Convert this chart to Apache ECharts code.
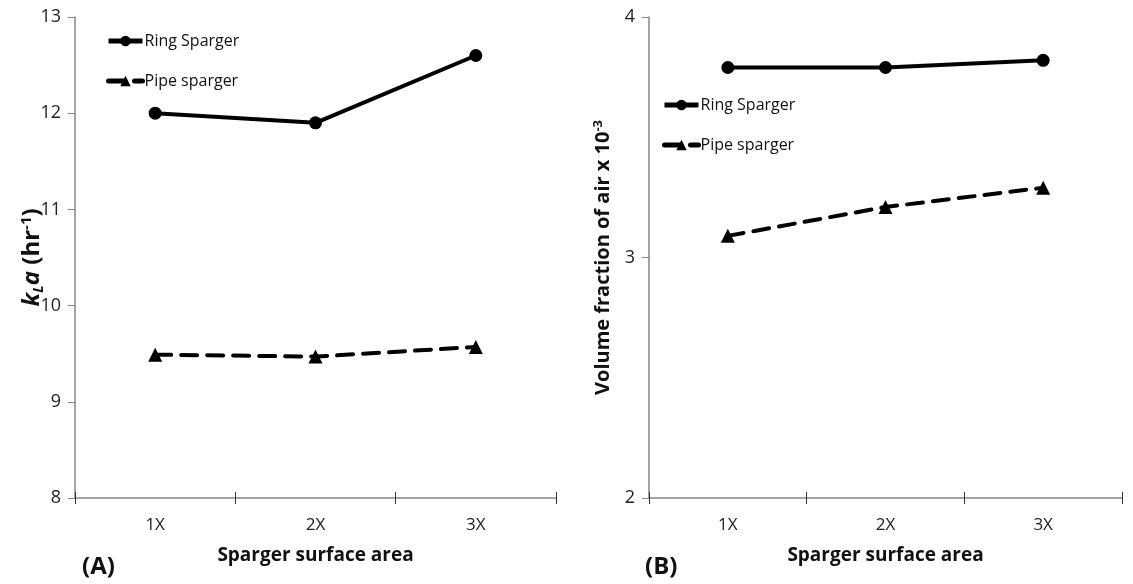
<!DOCTYPE html>
<html><head><meta charset="utf-8">
<script src="https://cdn.jsdelivr.net/npm/echarts@6/dist/echarts.min.js"></script>
<style>html,body{margin:0;padding:0;background:#fff}#c{width:1133px;height:584px}</style>
</head><body><div id="c"></div>
<script>
const categories = ['1X', '2X', '3X'];
const ringKla = [12.0, 11.9, 12.6];
const pipeKla = [9.49, 9.47, 9.57];
const ringVol = [3.79, 3.79, 3.82];
const pipeVol = [3.09, 3.21, 3.29];
const klaTicks = [8, 13, 1];
const volTicks = [2, 4, 1];

const FF = '"Open Sans", sans-serif';
const axisCol = '#868686';
const chart = echarts.init(document.getElementById('c'));

function xAxes(gi) {
  return [
    {gridIndex: gi, type: 'category', data: categories, boundaryGap: true,
     axisLine: {lineStyle: {color: axisCol, width: 1.5}},
     axisTick: {show: true, inside: false, length: 6, lineStyle: {color: '#333'}},
     axisLabel: {color: '#222', fontFamily: FF, fontSize: 17, margin: 19},
     name: 'Sparger surface area', nameLocation: 'middle', nameGap: 48,
     nameTextStyle: {fontFamily: FF, fontSize: 19, fontWeight: 'bold', color: '#111'}},
    {gridIndex: gi, type: 'category', data: categories, position: 'bottom', boundaryGap: true,
     axisLine: {show: false},
     axisTick: {show: true, inside: true, length: 6, lineStyle: {color: '#333'}},
     axisLabel: {show: false}}
  ];
}
function yAxis(gi, t, name, nameGap) {
  return {gridIndex: gi, type: 'value', min: t[0], max: t[1], interval: t[2],
    axisLine: {show: true, lineStyle: {color: axisCol, width: 1.5}},
    axisTick: {show: true, length: 7, lineStyle: {color: axisCol}},
    splitLine: {show: false},
    axisLabel: {color: '#222', fontFamily: FF, fontSize: 18, margin: 14},
    name: name, nameLocation: 'middle', nameGap: nameGap, nameMoveOverlap: false};
}

const ringStyle = {type: 'line', symbol: 'circle', symbolSize: 13,
  lineStyle: {color: '#000', width: 4}, itemStyle: {color: '#000'}};
const pipeStyle = {type: 'line', symbol: 'triangle', symbolSize: 14,
  lineStyle: {color: '#000', width: 4, type: [16, 10], cap: 'round'}, itemStyle: {color: '#000'}};

const y0 = yAxis(0, klaTicks, '{i|k}{sub|L}{i|a}{n| (hr}{sup|-1}{n|)}', 29);
y0.nameTextStyle = {color: '#111', rich: {
  i: {fontFamily: FF, fontSize: 24, fontWeight: 'bold', fontStyle: 'italic', color: '#111'},
  n: {fontFamily: FF, fontSize: 24, fontWeight: 'bold', color: '#111'},
  sub: {fontFamily: FF, fontSize: 15, fontWeight: 'bold', fontStyle: 'italic', color: '#111', verticalAlign: 'bottom', padding: [12, 0, 0, 0]},
  sup: {fontFamily: FF, fontSize: 15, fontWeight: 'bold', color: '#111', verticalAlign: 'top', padding: [0, 0, 12, 0]}
}};
const y1 = yAxis(1, volTicks, '{n|Volume fraction of air x 10}{sup|-3}', 34);
y1.nameTextStyle = {color: '#111', rich: {
  n: {fontFamily: FF, fontSize: 20, fontWeight: 'bold', color: '#111'},
  sup: {fontFamily: FF, fontSize: 13, fontWeight: 'bold', color: '#111', verticalAlign: 'top', padding: [0, 0, 10, 0]}
}};

const legendCommon = {orient: 'vertical', itemGap: 24, itemWidth: 34, itemHeight: 13,
  lineStyle: {width: 5}, textStyle: {fontFamily: FF, fontSize: 16, color: '#111', padding: [0, 0, 0, -3]}};

chart.setOption({
  animation: false,
  grid: [
    {left: 75, top: 17, width: 481, height: 481},
    {left: 649, top: 17, width: 473, height: 481}
  ],
  xAxis: [...xAxes(0), ...xAxes(1)],
  yAxis: [y0, y1],
  legend: [
    {...legendCommon, left: 101, top: 28, data: ['Ring Sparger', 'Pipe sparger']},
    {...legendCommon, left: 657, top: 92, data: ['Ring Sparger ', 'Pipe sparger ']}
  ],
  graphic: [
    {type: 'text', left: 82, top: 555, style: {text: '(A)', font: 'bold 24px "Open Sans"', fill: '#111'}},
    {type: 'text', left: 645, top: 555, style: {text: '(B)', font: 'bold 24px "Open Sans"', fill: '#111'}}
  ],
  series: [
    {...ringStyle, name: 'Ring Sparger', xAxisIndex: 0, yAxisIndex: 0, data: ringKla},
    {...pipeStyle, name: 'Pipe sparger', xAxisIndex: 0, yAxisIndex: 0, data: pipeKla},
    {...ringStyle, name: 'Ring Sparger ', xAxisIndex: 2, yAxisIndex: 1, data: ringVol},
    {...pipeStyle, name: 'Pipe sparger ', xAxisIndex: 2, yAxisIndex: 1, data: pipeVol}
  ]
});
</script></body></html>
